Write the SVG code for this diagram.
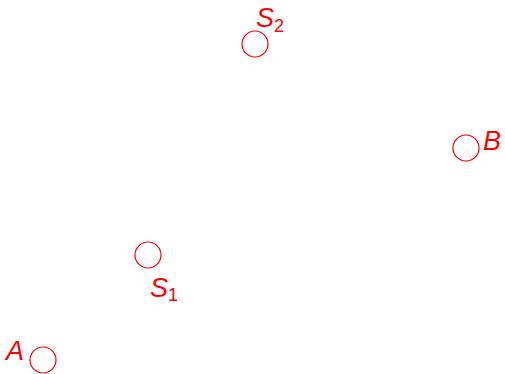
<svg xmlns="http://www.w3.org/2000/svg" width="505" height="374" viewBox="0 0 505 374">
<style>
.pt{fill:none;stroke:#ff0000;stroke-width:1.2}
.lb{fill:#ff0000;font-family:"Liberation Sans",Arial,sans-serif;font-style:italic;font-size:27px}
.sb{font-style:normal;font-size:18px}
</style>
<rect width="505" height="374" fill="#fff"/>
<g id="S2"><circle class="pt" cx="255" cy="44" r="13"/><text class="lb" x="256" y="27">S<tspan class="sb" dy="5">2</tspan></text></g>
<g id="B"><circle class="pt" cx="466" cy="148" r="13"/><text class="lb" x="483" y="150">B</text></g>
<g id="S1"><circle class="pt" cx="148" cy="255" r="13"/><text class="lb" x="150" y="297">S<tspan class="sb" dy="4">1</tspan></text></g>
<g id="A"><circle class="pt" cx="43" cy="360" r="13"/><text class="lb" x="6" y="360">A</text></g>
<g id="connectors"></g>
</svg>
